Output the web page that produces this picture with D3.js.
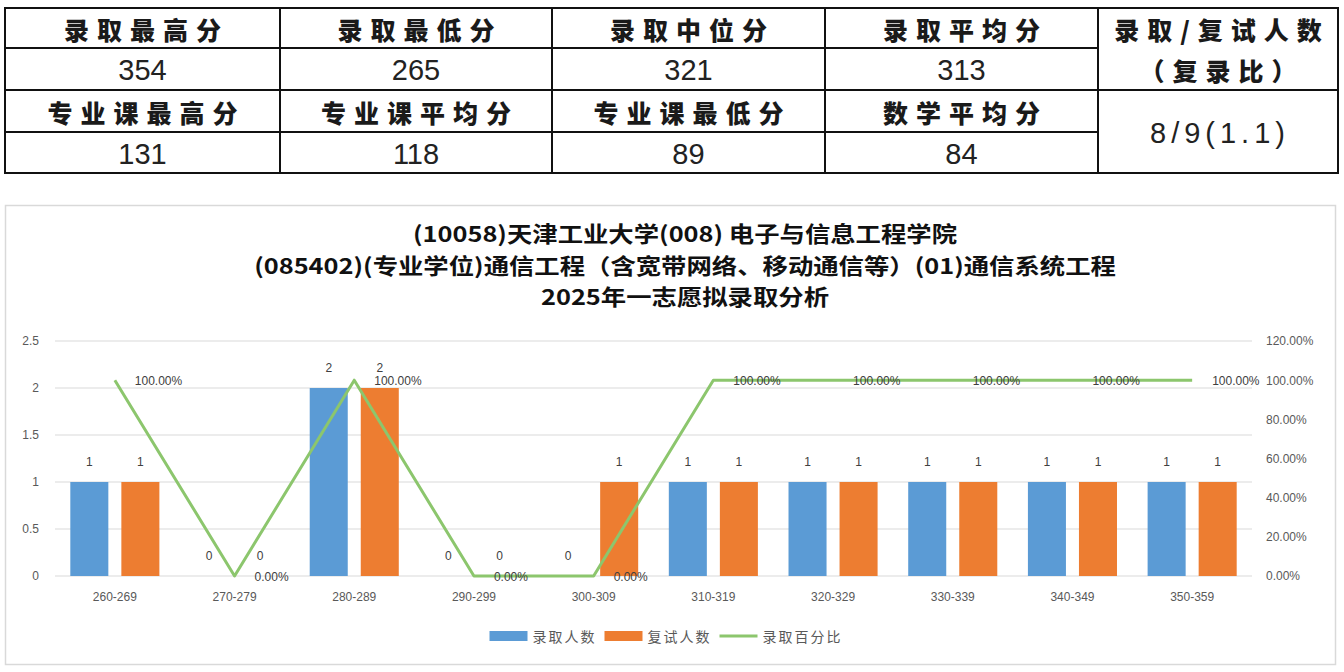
<!DOCTYPE html>
<meta charset="utf-8">
<head>
<style>
  body { margin: 0; background: #fff; }
  svg { display: block; }
  .hd { font-family: "Noto Sans CJK SC", sans-serif; font-weight: 900; font-size: 25px; fill: #1a1a1a; letter-spacing: 8px; }
  .num { font-family: "Liberation Sans", Arial, sans-serif; font-size: 29px; fill: #222; }
  .ttl { font-family: "Noto Sans CJK SC", sans-serif; font-weight: 700; font-size: 21.5px; fill: #111; }
  .ax { font-family: "Liberation Sans", Arial, sans-serif; font-size: 12px; fill: #595959; }
  .lbl { font-family: "Liberation Sans", Arial, sans-serif; font-size: 12px; fill: #404040; }
  .lg { font-family: "Noto Sans CJK SC", sans-serif; font-size: 14px; fill: #595959; letter-spacing: 2px; }
</style>
</head>
<body>
<script src="https://d3js.org/d3.v7.min.js"></script>
<script>
// ---- table values ----
const headRow1 = ["录取最高分", "录取最低分", "录取中位分", "录取平均分"];
const valRow1 = ["354", "265", "321", "313"];
const headRow2 = ["专业课最高分", "专业课平均分", "专业课最低分", "数学平均分"];
const valRow2 = ["131", "118", "89", "84"];
const ratioHead = ["录取/复试人数", "（复录比）"];
const ratioVal = "8/9(1.1)";

// ---- chart values ----
const titleLines = [
  "(10058)天津工业大学(008) 电子与信息工程学院",
  "(085402)(专业学位)通信工程（含宽带网络、移动通信等）(01)通信系统工程",
  "2025年一志愿拟录取分析"
];
const categories = ["260-269", "270-279", "280-289", "290-299", "300-309",
                    "310-319", "320-329", "330-339", "340-349", "350-359"];
const admitted = [1, 0, 2, 0, 0, 1, 1, 1, 1, 1];   // 录取人数
const retest   = [1, 0, 2, 0, 1, 1, 1, 1, 1, 1];   // 复试人数
const pct      = [100, 0, 100, 0, 0, 100, 100, 100, 100, 100]; // 录取百分比
const leftTicks = [0, 0.5, 1, 1.5, 2, 2.5];
const rightTicks = [0, 20, 40, 60, 80, 100, 120];
const seriesNames = ["录取人数", "复试人数", "录取百分比"];
const colors = {"录取人数": "#5b9bd5", "复试人数": "#ed7d31", "录取百分比": "#8cc66d"};

const W = 1344, H = 672;
const svg = d3.select("body").append("svg").attr("width", W).attr("height", H);

// ================= table =================
const colEdges = [5, 280, 552, 825, 1098, 1338];
const rowEdges = [8, 48, 90, 132, 173];
const tbl = svg.append("g");

const cellCenter = i => (colEdges[i] + colEdges[i + 1]) / 2;
const rowCenter = r => (rowEdges[r] + rowEdges[r + 1]) / 2;

[[headRow1, "hd", 0], [valRow1, "num", 1], [headRow2, "hd", 2], [valRow2, "num", 3]].forEach(([arr, cls, r]) => {
  tbl.selectAll(null).data(arr).enter().append("text")
    .attr("class", cls)
    .attr("x", (d, i) => cellCenter(i) + (cls === "hd" ? 4 : 0))
    .attr("y", rowCenter(r) + 1)
    .attr("text-anchor", "middle")
    .attr("dominant-baseline", "central")
    .text(d => d);
});
tbl.selectAll(null).data(ratioHead).enter().append("text")
  .attr("class", "hd")
  .attr("x", cellCenter(4) + 4)
  .attr("y", (d, i) => rowCenter(i) + 1)
  .attr("text-anchor", "middle")
  .attr("dominant-baseline", "central")
  .text(d => d);
tbl.append("text").attr("class", "num")
  .attr("x", cellCenter(4) + 2).attr("y", (rowEdges[2] + rowEdges[4]) / 2 + 1)
  .attr("text-anchor", "middle").attr("dominant-baseline", "central")
  .style("letter-spacing", "5px")
  .text(ratioVal);

// grid lines of table
const tl = tbl.append("g").attr("stroke", "#111").attr("stroke-width", 2);
tl.append("rect").attr("x", colEdges[0]).attr("y", rowEdges[0])
  .attr("width", colEdges[5] - colEdges[0]).attr("height", rowEdges[4] - rowEdges[0]).attr("fill", "none");
colEdges.slice(1, 5).forEach(x => tl.append("line").attr("x1", x).attr("x2", x).attr("y1", rowEdges[0]).attr("y2", rowEdges[4]));
rowEdges.slice(1, 4).forEach((y, i) => tl.append("line")
  .attr("x1", colEdges[0]).attr("x2", i === 1 ? colEdges[5] : colEdges[4]).attr("y1", y).attr("y2", y));

// ================= chart =================
svg.append("rect").attr("x", 5.5).attr("y", 205.5).attr("width", 1330).attr("height", 459)
  .attr("fill", "#fff").attr("stroke", "#d9d9d9").attr("stroke-width", 1.5);

// title: slightly smaller font stretched sideways so the lines don't collide
svg.selectAll(".ttl").data(titleLines).enter().append("text")
  .attr("class", "ttl")
  .attr("transform", (d, i) => `translate(685,${233 + i * 31.5}) scale(1.18,1)`)
  .attr("text-anchor", "middle").attr("dominant-baseline", "central")
  .text(d => d);

const plot = {left: 55, right: 1252, top: 341, bottom: 576};
const x = d3.scaleBand().domain(categories).range([plot.left, plot.right]);
const xs = d3.scaleBand().domain(seriesNames.slice(0, 2)).range([0, x.bandwidth()])
  .paddingInner(0.255).paddingOuter(0.3);
const yL = d3.scaleLinear().domain([0, 2.5]).range([plot.bottom, plot.top]);
const yR = d3.scaleLinear().domain([0, 120]).range([plot.bottom, plot.top]);

// gridlines
svg.append("g").selectAll("line").data(leftTicks).enter().append("line")
  .attr("x1", plot.left).attr("x2", plot.right)
  .attr("y1", d => yL(d)).attr("y2", d => yL(d))
  .attr("stroke", "#d9d9d9").attr("stroke-width", 1.2);

// axes (text only)
const axL = svg.append("g").attr("transform", `translate(${plot.left},0)`)
  .call(d3.axisLeft(yL).tickValues(leftTicks).tickSize(0).tickPadding(16).tickFormat(d3.format("~g")));
const axR = svg.append("g").attr("transform", `translate(${plot.right},0)`)
  .call(d3.axisRight(yR).tickValues(rightTicks).tickSize(0).tickPadding(14).tickFormat(d => d3.format(".2f")(d) + "%"));
const axB = svg.append("g").attr("transform", `translate(0,${plot.bottom})`)
  .call(d3.axisBottom(x).tickSize(0).tickPadding(16));
[axL, axR, axB].forEach(a => {
  a.select(".domain").remove();
  a.selectAll("text").attr("class", "ax").attr("fill", null).style("font-family", null).style("font-size", null);
  a.attr("font-family", null).attr("font-size", null);
});

// bars
const barData = [];
categories.forEach((c, i) => {
  barData.push({cat: c, s: "录取人数", v: admitted[i]});
  barData.push({cat: c, s: "复试人数", v: retest[i]});
});
svg.append("g").selectAll("rect").data(barData).enter().append("rect")
  .attr("x", d => x(d.cat) + xs(d.s))
  .attr("width", xs.bandwidth())
  .attr("y", d => yL(d.v))
  .attr("height", d => yL(0) - yL(d.v))
  .attr("fill", d => colors[d.s]);
svg.append("g").selectAll("text").data(barData).enter().append("text")
  .attr("class", "lbl")
  .attr("x", d => x(d.cat) + xs(d.s) + xs.bandwidth() / 2)
  .attr("y", d => yL(d.v) - 20)
  .attr("text-anchor", "middle").attr("dominant-baseline", "central")
  .text(d => d.v);

// line
const lineData = categories.map((c, i) => ({cat: c, v: pct[i]}));
const line = d3.line().x(d => x(d.cat) + x.bandwidth() / 2).y(d => yR(d.v));
svg.append("path").datum(lineData).attr("d", line)
  .attr("fill", "none").attr("stroke", colors["录取百分比"]).attr("stroke-width", 3)
  .attr("stroke-linejoin", "round");
svg.append("g").selectAll("text").data(lineData).enter().append("text")
  .attr("class", "lbl")
  .attr("x", d => x(d.cat) + x.bandwidth() / 2 + 20)
  .attr("y", d => yR(d.v) + 1)
  .attr("dominant-baseline", "central")
  .text(d => d3.format(".2f")(d.v) + "%");

// legend
const lg = svg.append("g");
let lx = 0;
seriesNames.forEach((s, i) => {
  const g = lg.append("g").attr("transform", `translate(${lx},0)`);
  if (i < 2) g.append("rect").attr("x", 0).attr("y", -5).attr("width", 38).attr("height", 10).attr("fill", colors[s]);
  else g.append("line").attr("x1", 0).attr("x2", 38).attr("y1", 0).attr("y2", 0).attr("stroke", colors[s]).attr("stroke-width", 3);
  const t = g.append("text").attr("class", "lg").attr("x", 43).attr("y", 0)
    .attr("dominant-baseline", "central").text(s);
  lx += 43 + t.node().getComputedTextLength() + 8;
});
lg.attr("transform", `translate(${670 - lx / 2},636)`);
</script>
</body>
